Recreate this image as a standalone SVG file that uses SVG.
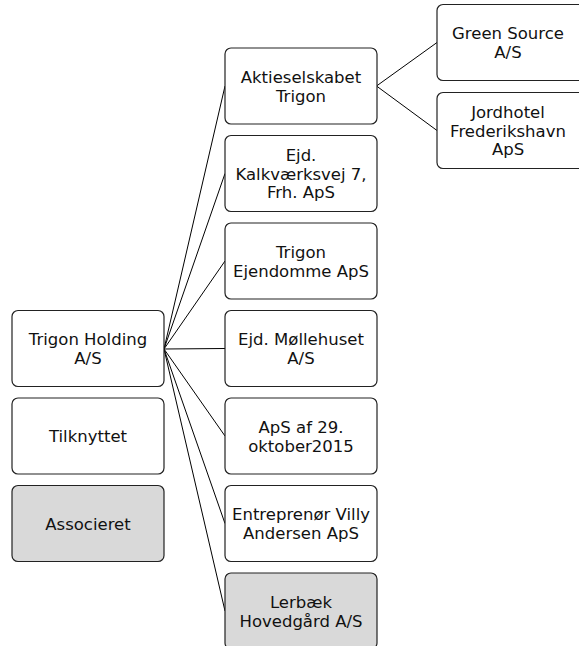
<svg xmlns="http://www.w3.org/2000/svg" width="579" height="646" viewBox="0 0 579 646">
<style>
.box rect{fill:#ffffff;stroke:#222222;stroke-width:1.2}
.box.grey rect{fill:#d9d9d9}
.box text{font-family:"DejaVu Sans",sans-serif;font-size:16.5px;fill:#111111;text-anchor:middle}
#connectors line{stroke:#000000;stroke-width:1}
</style>
<rect x="0" y="0" width="579" height="646" fill="#ffffff"/>
<g id="connectors">
<line x1="164" y1="349" x2="225" y2="86"/>
<line x1="164" y1="349" x2="225" y2="173.5"/>
<line x1="164" y1="349" x2="225" y2="261"/>
<line x1="164" y1="349" x2="225" y2="348.5"/>
<line x1="164" y1="349" x2="225" y2="436"/>
<line x1="164" y1="349" x2="225" y2="523.5"/>
<line x1="164" y1="349" x2="225" y2="611"/>
<line x1="376.5" y1="86" x2="437" y2="42.5"/>
<line x1="376.5" y1="86" x2="437" y2="130.5"/>
</g>
<g id="trigon-holding" class="box"><rect x="12" y="310.5" width="152" height="76" rx="6"/><text x="88" y="345.3">Trigon Holding</text><text x="88" y="364">A/S</text></g>
<g id="tilknyttet" class="box"><rect x="12" y="398" width="152" height="76" rx="6"/><text x="88" y="442">Tilknyttet</text></g>
<g id="associeret" class="box grey"><rect x="12" y="485.5" width="152" height="76" rx="6"/><text x="88" y="529.5">Associeret</text></g>
<g id="aktieselskabet-trigon" class="box"><rect x="225" y="48" width="152" height="76" rx="6"/><text x="301" y="82.8">Aktieselskabet</text><text x="301" y="101.5">Trigon</text></g>
<g id="ejd-kalkvaerksvej" class="box"><rect x="225" y="135.5" width="152" height="76" rx="6"/><text x="301" y="160.8">Ejd.</text><text x="301" y="179.5">Kalkværksvej 7,</text><text x="301" y="198.2">Frh. ApS</text></g>
<g id="trigon-ejendomme" class="box"><rect x="225" y="223" width="152" height="76" rx="6"/><text x="301" y="257.8">Trigon</text><text x="301" y="276.5">Ejendomme ApS</text></g>
<g id="ejd-mollehuset" class="box"><rect x="225" y="310.5" width="152" height="76" rx="6"/><text x="301" y="345.3">Ejd. Møllehuset</text><text x="301" y="364">A/S</text></g>
<g id="aps-af-29-oktober2015" class="box"><rect x="225" y="398" width="152" height="76" rx="6"/><text x="301" y="432.8">ApS af 29.</text><text x="301" y="451.5">oktober2015</text></g>
<g id="entreprenor-villy-andersen" class="box"><rect x="225" y="485.5" width="152" height="76" rx="6"/><text x="301" y="520.3">Entreprenør Villy</text><text x="301" y="539">Andersen ApS</text></g>
<g id="lerbaek-hovedgaard" class="box grey"><rect x="225" y="573" width="152" height="76" rx="6"/><text x="301" y="607.8">Lerbæk</text><text x="301" y="626.5">Hovedgård A/S</text></g>
<g id="green-source" class="box"><rect x="437" y="4.5" width="152" height="76" rx="6"/><text x="508" y="39.3">Green Source</text><text x="508" y="58">A/S</text></g>
<g id="jordhotel-frederikshavn" class="box"><rect x="437" y="92.5" width="152" height="76" rx="6"/><text x="508" y="117.8">Jordhotel</text><text x="508" y="136.5">Frederikshavn</text><text x="508" y="155.2">ApS</text></g>
</svg>
